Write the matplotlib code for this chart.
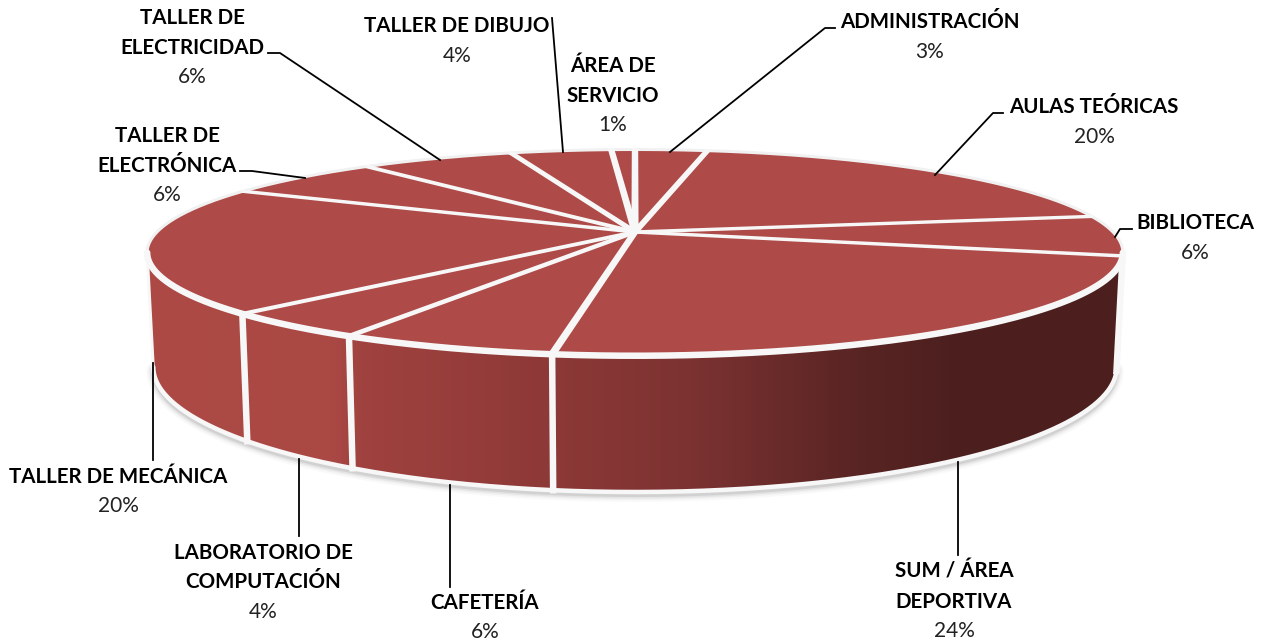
import numpy as np
import matplotlib
matplotlib.use('Agg')
import matplotlib.pyplot as plt
from matplotlib.colors import LinearSegmentedColormap
from matplotlib.patches import Polygon

plt.rcParams['font.family'] = ['Lato', 'DejaVu Sans']

# shares, clockwise from the top
areas = ['ADMINISTRACIÓN', 'AULAS TEÓRICAS', 'BIBLIOTECA', 'SUM / ÁREA\nDEPORTIVA',
         'CAFETERÍA', 'LABORATORIO DE\nCOMPUTACIÓN', 'TALLER DE MECÁNICA',
         'TALLER DE\nELECTRÓNICA', 'TALLER DE\nELECTRICIDAD', 'TALLER DE DIBUJO',
         'ÁREA DE\nSERVICIO']
shares = [2.9, 19.5, 6.3, 23.52, 6.01, 4.22, 19.95, 6.4, 6.2, 4.05, 0.95]

# label centre (top line) and leader path, in pixels of the picture
label_pos = [(930, 22), (1094, 107), (1195, 223), (954, 572), (485, 603), (263, 553),
             (118, 477), (167, 136), (192, 18), (457, 26), (613, 66)]
leaders = [[(835, 28), (825, 28), (670, 152)],
           [(1003, 113), (993, 113), (935, 175)],
           [(1132, 229), (1120, 229), (1115, 237)],
           [(958, 555), (958, 462)],
           [(450, 587), (450, 485)],
           [(299, 536), (299, 459)],
           [(153, 460), (153, 363)],
           [(240, 171), (252, 171), (305, 178)],
           [(268, 53), (280, 53), (440, 160)],
           [(552, 18), (563, 152)],
           None]

TOP = '#AE4A47'
RIM = '#F7F7F7'
px = 0.72  # one pixel in points at dpi 100
A = 478
K = 0.2

wall_x = [148, 330, 360, 550, 700, 850, 960, 1120]
wall_c = ['#AD4A46', '#AA4844', '#A0423F', '#8D3937', '#7A3231', '#5A2524', '#4C1F1E', '#4C1F1E']


def project(theta, cy, b, a):
    # disc point seen in perspective, theta clockwise from the back
    u = np.sin(theta)
    v = np.cos(theta)
    w = 1 + K * v
    return 635 + a * u / w, cy - b * v / w


def top_xy(theta):
    return project(theta, 232, 99, A)


def bot_xy(theta):
    return project(theta, 342, 120, 472)


fig = plt.figure(figsize=(12.69, 6.44), dpi=100)
ax = fig.add_axes([0, 0, 1, 1])

edges = np.radians(np.cumsum([0] + shares) * 3.6)
front = np.linspace(np.arccos(-K), 2 * np.pi - np.arccos(-K), 300)
full = np.linspace(0, 2 * np.pi, 721)

# soft shadow under the base
bx, by = bot_xy(front)
for lw, al in zip([14, 10, 7, 4], [0.03, 0.05, 0.08, 0.12]):
    ax.plot(bx, by + 3, color='#555555', lw=lw * px, alpha=al, zorder=1, solid_capstyle='round')

# side wall with horizontal gradient
tx, ty = top_xy(front)
wall = Polygon(np.column_stack([np.r_[tx, bx[::-1]], np.r_[ty, by[::-1]]]),
               closed=True, transform=ax.transData, fc='none', ec='none')
ax.add_patch(wall)
cmap = LinearSegmentedColormap.from_list(
    'wall', [((x - wall_x[0]) / (wall_x[-1] - wall_x[0]), c) for x, c in zip(wall_x, wall_c)])
grad = np.linspace(0, 1, 512)[None, :]
im = ax.imshow(grad, cmap=cmap, extent=(wall_x[0], wall_x[-1], 500, 250), aspect='auto', zorder=2)
im.set_clip_path(wall)

# rims and wall separators
ax.plot(bx, by, color=RIM, lw=4.5 * px, zorder=3, solid_capstyle='round')
ax.plot([tx[0], bx[0]], [ty[0], by[0]], color=RIM, lw=3 * px, zorder=3)
ax.plot([tx[-1], bx[-1]], [ty[-1], by[-1]], color=RIM, lw=3 * px, zorder=3)
for e in edges:
    if front[0] < e < front[-1]:
        ax.plot([top_xy(e)[0], bot_xy(e)[0]], [top_xy(e)[1], bot_xy(e)[1]],
                color=RIM, lw=6.5 * px, zorder=3)

# top face
fx, fy = top_xy(full)
ax.fill(fx, fy, color=TOP, lw=0, zorder=4)
ax.plot(fx, fy, color='#F1F1F1', lw=3 * px, zorder=5)
ax.plot(tx, ty, color=RIM, lw=6.5 * px, zorder=5, solid_capstyle='round')

# white gaps between the slices, constant width on the disc
d = 0.005
for e in edges[:-1]:
    su = np.sin(e) * np.array([0, 1, 1, 0]) + np.cos(e) * d * np.array([1, 1, -1, -1])
    sv = np.cos(e) * np.array([0, 1, 1, 0]) - np.sin(e) * d * np.array([1, 1, -1, -1])
    w = 1 + K * sv
    pts = np.column_stack([635 + A * su / w, 232 - 99 * sv / w])
    ax.add_patch(Polygon(pts, closed=True, fc=RIM, ec=RIM, lw=2.4 * px, zorder=6))

# leaders and labels
for name, share, pos, path in zip(areas, shares, label_pos, leaders):
    if path is not None:
        xs, ys = zip(*path)
        ax.plot(xs, ys, color='black', lw=1.8 * px, zorder=7)
    n = name.count('\n') + 1
    for i, line in enumerate(name.split('\n')):
        ax.text(pos[0], pos[1] + 29.5 * i, line, ha='center', va='center',
                fontsize=14.8, fontweight='bold', color='black', zorder=8)
    ax.text(pos[0], pos[1] + 29.5 * n, f'{share:.0f}%', ha='center', va='center',
            fontsize=15, color='#222222', zorder=8)

ax.set_xlim(0, 1269)
ax.set_ylim(644, 0)
ax.axis('off')
fig.savefig('out.png', dpi=100)
